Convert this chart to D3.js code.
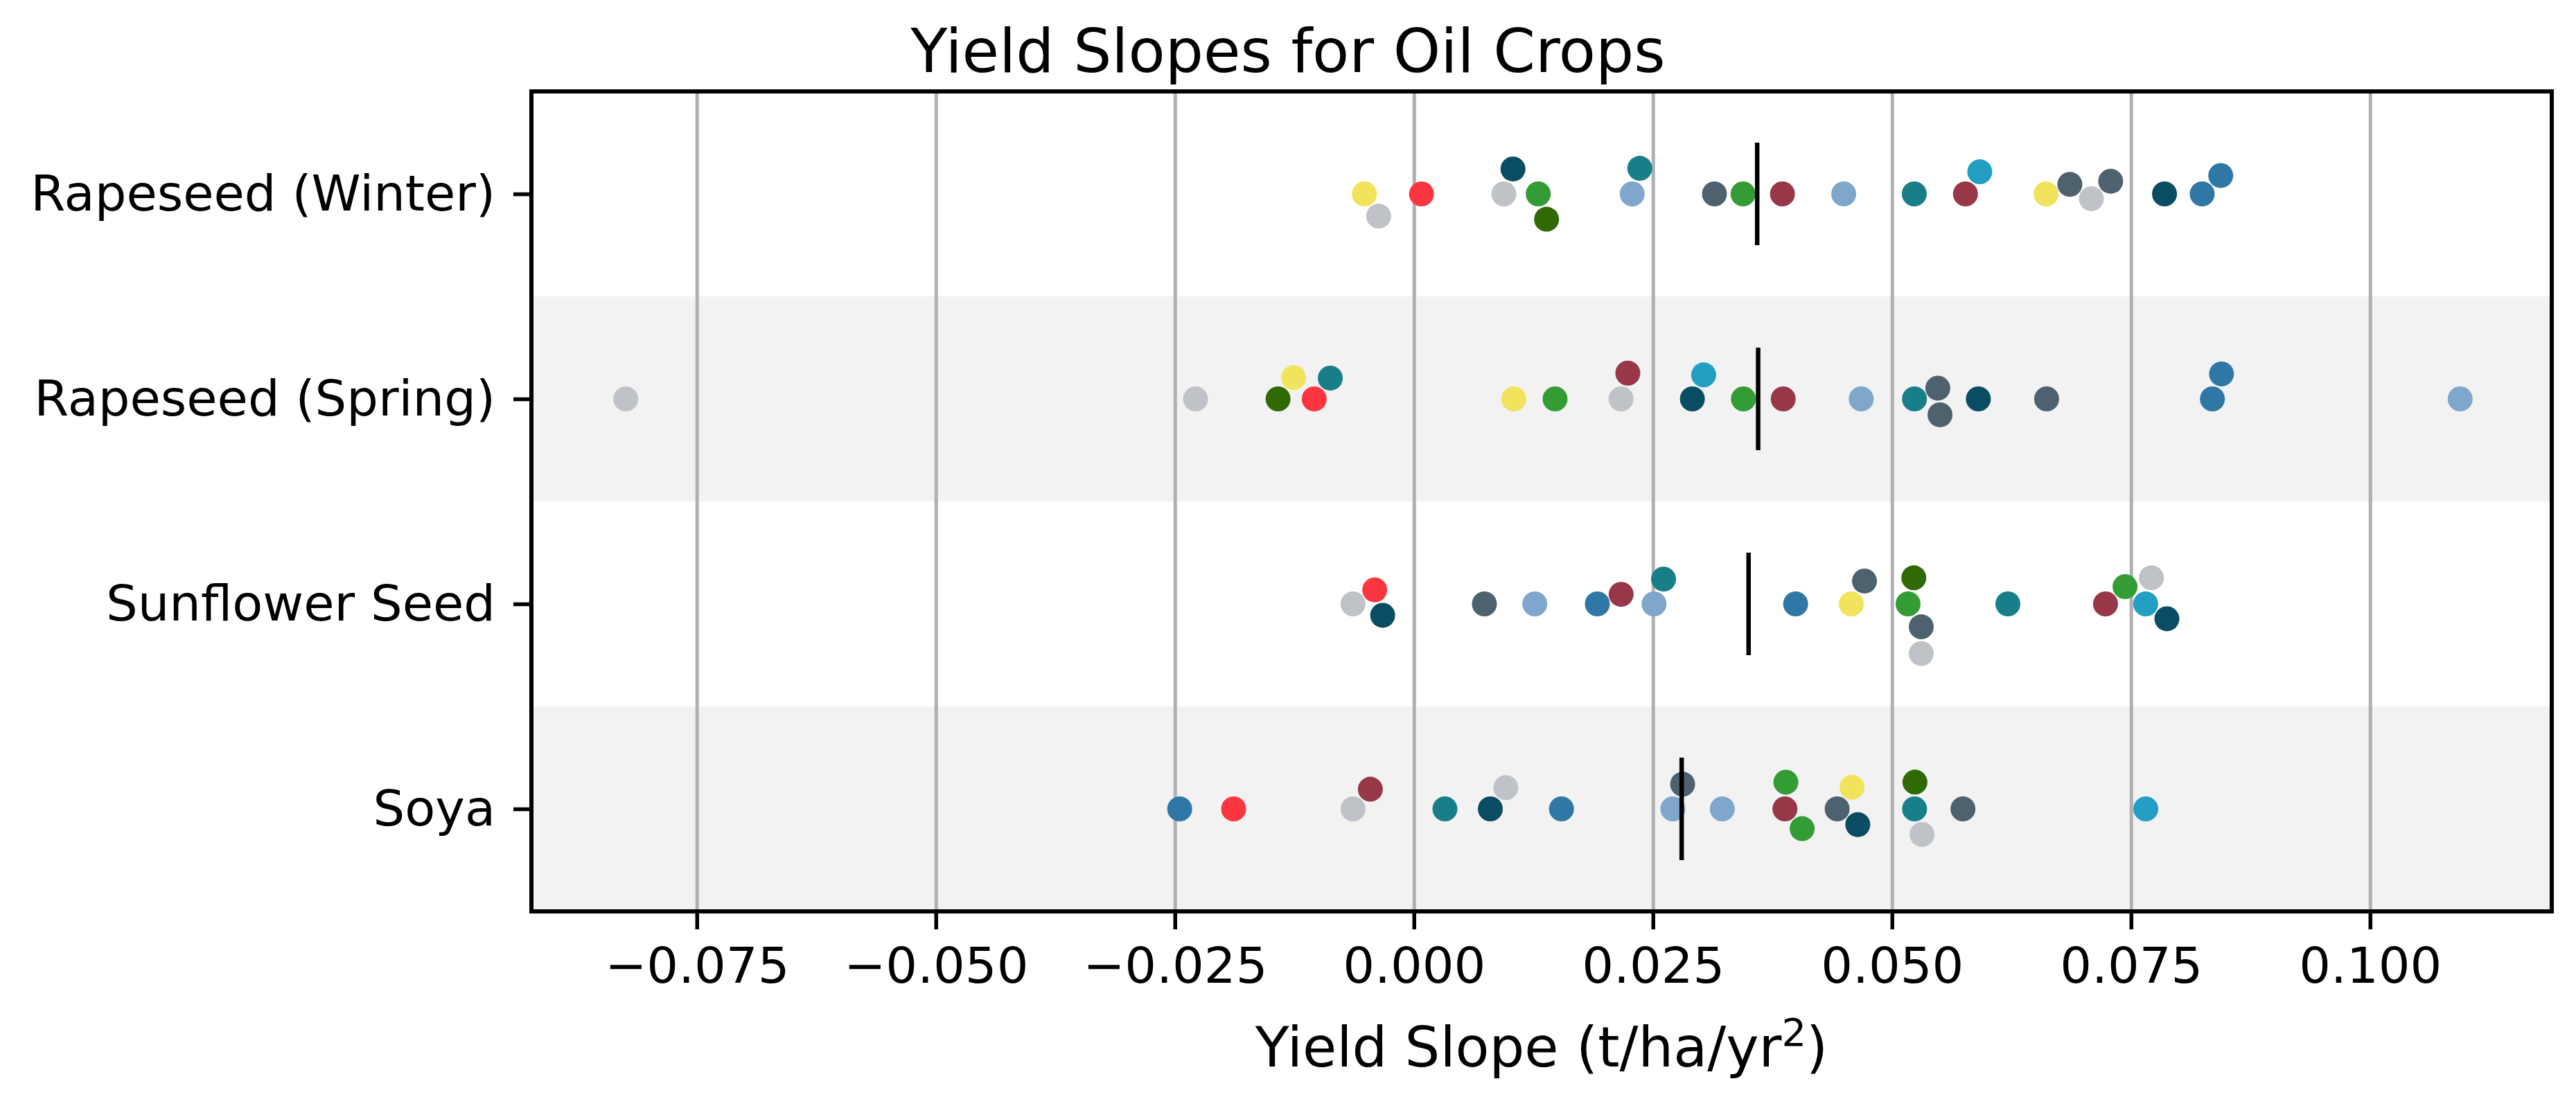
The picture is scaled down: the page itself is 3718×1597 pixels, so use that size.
<!DOCTYPE html>
<html>
<head>
<meta charset="utf-8">
<script src="https://cdn.jsdelivr.net/npm/d3@7"></script>
<style>
  body { margin: 0; background: #fff; }
  text { font-family: "DejaVu Sans", sans-serif; }
</style>
</head>
<body>
<svg width="3718" height="1597"></svg>
<script>
// crops, top to bottom
const crops = ['Rapeseed (Winter)', 'Rapeseed (Spring)', 'Sunflower Seed', 'Soya'];

// slopes per crop (t/ha/yr2), with the colour of each point
const winterVals = [-0.00518, -0.00369, 0.00079, 0.0094, 0.01036, 0.0130, 0.01387, 0.02283, 0.02362, 0.03143, 0.03442, 0.03854,
  0.04495, 0.05233, 0.05768, 0.05918, 0.06611, 0.0686, 0.07085, 0.07287, 0.0785, 0.08244, 0.08438];
const winterCols = ['yellow', 'gray', 'red', 'gray', 'navy', 'green', 'darkgreen', 'lightblue', 'teal', 'slate', 'green', 'maroon',
  'lightblue', 'teal', 'maroon', 'cyan', 'yellow', 'slate', 'gray', 'slate', 'navy', 'steelblue', 'steelblue'];
const winterUp = [0, 0, 0, 0, 1, 0, 0, 0, 1, 0, 0, 0, 0, 0, 0, 1, 0, 1, 0, 0, 0, 0, 1];

const springVals = [-0.08243, -0.02284, -0.01421, -0.01259, -0.01043, -0.00875, 0.01044, 0.01476, 0.02166, 0.02237, 0.02912, 0.0303,
  0.03446, 0.03862, 0.04678, 0.05235, 0.05479, 0.05502, 0.05903, 0.06617, 0.08351, 0.08446, 0.10942];
const springCols = ['gray', 'gray', 'darkgreen', 'yellow', 'red', 'teal', 'yellow', 'green', 'gray', 'maroon', 'navy', 'cyan',
  'green', 'maroon', 'lightblue', 'teal', 'slate', 'slate', 'navy', 'slate', 'steelblue', 'steelblue', 'lightblue'];
const springUp = [0, 0, 0, 1, 0, 1, 0, 0, 0, 1, 0, 1, 0, 0, 0, 0, 1, 0, 0, 0, 0, 1, 0];

const sunVals = [-0.00637, -0.0041, -0.00327, 0.00737, 0.01264, 0.01918, 0.02167, 0.02511, 0.02611, 0.03992, 0.04574, 0.04712,
  0.05168, 0.05228, 0.05306, 0.05306, 0.06212, 0.07233, 0.07437, 0.07653, 0.07713, 0.07875];
const sunCols = ['gray', 'red', 'navy', 'slate', 'lightblue', 'steelblue', 'maroon', 'lightblue', 'teal', 'steelblue', 'yellow', 'slate',
  'green', 'darkgreen', 'slate', 'gray', 'teal', 'maroon', 'green', 'cyan', 'gray', 'navy'];
const sunUp = [0, 1, 0, 0, 0, 0, 1, 0, 1, 0, 0, 1, 0, 1, 0, 0, 0, 0, 1, 0, 1, 0];

const soyaVals = [-0.0245, -0.01886, -0.00637, -0.00456, 0.00324, 0.00799, 0.00961, 0.01543, 0.02708, 0.0281, 0.03225, 0.0388,
  0.0389, 0.0406, 0.04426, 0.04582, 0.04642, 0.05236, 0.0524, 0.05314, 0.05742, 0.07654];
const soyaCols = ['steelblue', 'red', 'gray', 'maroon', 'teal', 'navy', 'gray', 'steelblue', 'lightblue', 'slate', 'lightblue', 'maroon',
  'green', 'green', 'slate', 'yellow', 'navy', 'teal', 'darkgreen', 'gray', 'slate', 'cyan'];
const soyaUp = [0, 0, 0, 1, 0, 0, 1, 0, 0, 1, 0, 0, 1, 0, 0, 1, 0, 0, 1, 0, 0, 0];

// black marker per crop
const centreVals = [0.0359, 0.0360, 0.0350, 0.0280];

const xTicks = [-0.075, -0.05, -0.025, 0, 0.025, 0.05, 0.075, 0.1];
const xDomain = [-0.0923, 0.1190];

const colourNames = ['yellow', 'gray', 'red', 'navy', 'green', 'darkgreen', 'lightblue', 'teal', 'slate', 'maroon', 'cyan', 'steelblue'];
const colourHex = ['#f2e35c', '#bfc2c7', '#fc3641', '#0a4c62', '#349c34', '#2f6a05', '#7ea7cb', '#187f88', '#4e616e', '#973747', '#229fc3', '#2f78a5'];

const rows = [
  {vals: winterVals, cols: winterCols, up: winterUp},
  {vals: springVals, cols: springCols, up: springUp},
  {vals: sunVals, cols: sunCols, up: sunUp},
  {vals: soyaVals, cols: soyaCols, up: soyaUp}
];

const svg = d3.select('svg');
const plotLeft = 767, plotRight = 3683, plotTop = 132, plotBottom = 1316;

const x = d3.scaleLinear().domain(xDomain).range([plotLeft, plotRight]);
const y = d3.scalePoint().domain(crops).range([plotTop, plotBottom]).padding(0.5);
const colour = d3.scaleOrdinal().domain(colourNames).range(colourHex);
const step = y.step();
const R = 18.4;

// alternate shaded bands
svg.selectAll('rect.band')
  .data(crops.filter((c, i) => i % 2 === 1))
  .enter().append('rect')
    .attr('x', plotLeft)
    .attr('width', plotRight - plotLeft)
    .attr('y', d => Math.max(plotTop, y(d) - step / 2))
    .attr('height', d => Math.min(plotBottom, y(d) + step / 2) - Math.max(plotTop, y(d) - step / 2))
    .attr('fill', '#f2f2f2');

// vertical grid
svg.append('g')
  .attr('transform', `translate(0,${plotBottom})`)
  .call(d3.axisBottom(x).tickValues(xTicks).tickSize(-(plotBottom - plotTop)).tickFormat(''))
  .call(g => g.select('.domain').remove())
  .call(g => g.selectAll('line').attr('stroke', '#b0b0b0').attr('stroke-width', 5));

// beeswarm like seaborn: sort by value, try candidate offsets nearest the midline
function swarm(row) {
  const pts = row.vals.map((v, i) => ({v, c: row.cols[i], up: row.up[i], px: x(v)}))
    .sort((a, b) => a.px - b.px);
  const d = 2 * R;
  const placed = [];
  pts.forEach(p => {
    const nb = [];
    for (let k = placed.length - 1; k >= 0; k--) {
      if (p.px - placed[k].px < d) nb.push(placed[k]);
      else break;
    }
    let cands = [0];
    let leftFirst = true;
    nb.forEach(q => {
      const dy = p.px - q.px;
      const dx = Math.sqrt(Math.max(d * d - dy * dy, 0)) * 1.05;
      const lo = q.off - dx, hi = q.off + dx;
      cands.push(...(leftFirst ? [lo, hi] : [hi, lo]));
      leftFirst = !leftFirst;
    });
    cands = cands.map((c, k) => ({c, k})).sort((a, b) => {
      const da = Math.abs(a.c) - Math.abs(b.c);
      if (Math.abs(da) > 1e-6) return da;
      if (p.up) return b.c - a.c;
      return a.k - b.k;
    });
    const ok = cands.find(({c}) => nb.every(q => (p.px - q.px) ** 2 + (c - q.off) ** 2 >= d * d - 1e-6));
    p.off = ok ? ok.c : 0;
    placed.push(p);
  });
  return pts;
}

rows.forEach((row, i) => {
  const pts = swarm(row);
  svg.append('g').selectAll('circle')
    .data(pts)
    .enter().append('circle')
      .attr('cx', d => x(d.v))
      .attr('cy', d => y(crops[i]) - d.off)
      .attr('r', 18)
      .attr('fill', d => colour(d.c));
});

// black markers
svg.selectAll('line.centre')
  .data(centreVals)
  .enter().append('line')
    .attr('x1', d => x(d))
    .attr('x2', d => x(d))
    .attr('y1', (d, i) => y(crops[i]) - step / 4)
    .attr('y2', (d, i) => y(crops[i]) + step / 4)
    .attr('stroke', '#000')
    .attr('stroke-width', 6.5);

// axes
const xAxis = svg.append('g')
  .attr('transform', `translate(0,${plotBottom})`)
  .call(d3.axisBottom(x).tickValues(xTicks).tickSize(26).tickPadding(26).tickFormat(d3.format('.3f')));
xAxis.select('.domain').remove();
xAxis.selectAll('line').attr('stroke-width', 5.5);
xAxis.selectAll('text').attr('font-size', 72).attr('fill', '#000');

const yAxis = svg.append('g')
  .attr('transform', `translate(${plotLeft},0)`)
  .call(d3.axisLeft(y).tickSize(26).tickPadding(26));
yAxis.select('.domain').remove();
yAxis.selectAll('line').attr('stroke-width', 5.5);
yAxis.selectAll('text').attr('font-size', 72).attr('fill', '#000');

svg.append('rect')
  .attr('x', plotLeft).attr('y', plotTop)
  .attr('width', plotRight - plotLeft).attr('height', plotBottom - plotTop)
  .attr('fill', 'none').attr('stroke', '#000').attr('stroke-width', 6);

// title and axis label
svg.append('text')
  .attr('x', 1859).attr('y', 104)
  .attr('text-anchor', 'middle')
  .attr('font-size', 87)
  .text('Yield Slopes for Oil Crops');

const xl = svg.append('text')
  .attr('x', (plotLeft + plotRight) / 2).attr('y', 1540)
  .attr('text-anchor', 'middle')
  .attr('font-size', 80);
xl.append('tspan').text('Yield Slope (t/ha/yr');
xl.append('tspan').attr('font-size', 56).attr('dy', -30).text('2');
xl.append('tspan').attr('dy', 30).text(')');
</script>
</body>
</html>
